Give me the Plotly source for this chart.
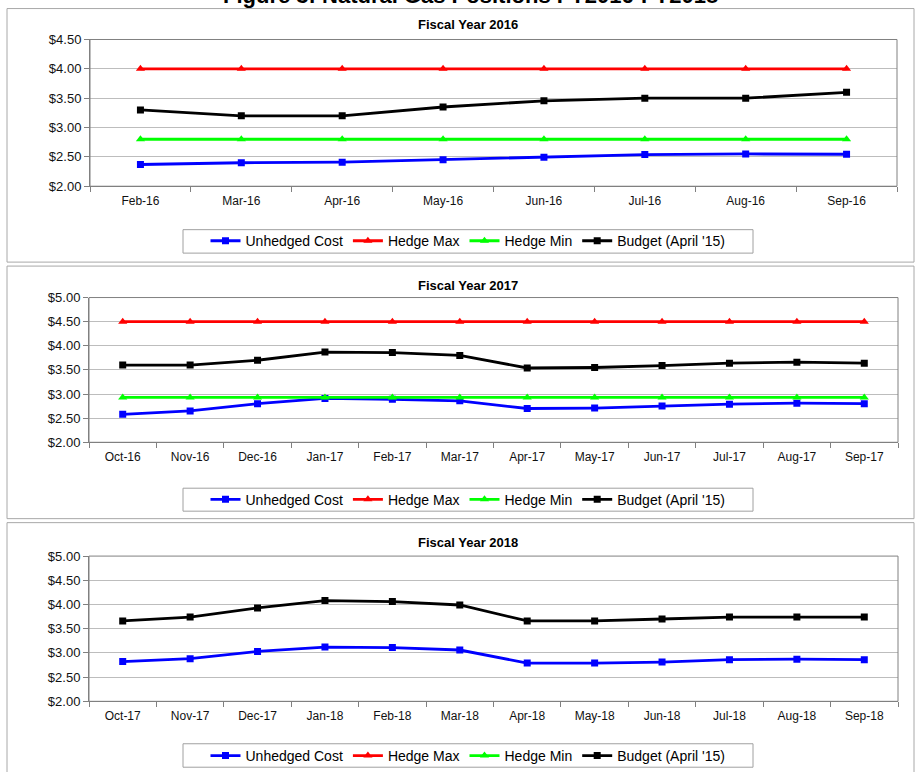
import plotly.graph_objects as go

W, H = 916, 772

# ---------------- data ----------------
months_fy16 = ["Feb-16", "Mar-16", "Apr-16", "May-16", "Jun-16", "Jul-16", "Aug-16", "Sep-16"]
unhedged_fy16 = [2.37, 2.40, 2.41, 2.45, 2.495, 2.54, 2.55, 2.545]
hedge_max_fy16 = [4.00, 4.00, 4.00, 4.00, 4.00, 4.00, 4.00, 4.00]
hedge_min_fy16 = [2.80, 2.80, 2.80, 2.80, 2.80, 2.80, 2.80, 2.80]
budget_fy16 = [3.30, 3.20, 3.20, 3.35, 3.455, 3.50, 3.50, 3.60]

months_fy17 = ["Oct-16", "Nov-16", "Dec-16", "Jan-17", "Feb-17", "Mar-17",
               "Apr-17", "May-17", "Jun-17", "Jul-17", "Aug-17", "Sep-17"]
unhedged_fy17 = [2.58, 2.65, 2.80, 2.91, 2.89, 2.86, 2.70, 2.71, 2.75, 2.79, 2.81, 2.80]
hedge_max_fy17 = [4.50] * 12
hedge_min_fy17 = [2.93] * 12
budget_fy17 = [3.60, 3.60, 3.70, 3.87, 3.86, 3.80, 3.54, 3.55, 3.59, 3.64, 3.66, 3.64]

months_fy18 = ["Oct-17", "Nov-17", "Dec-17", "Jan-18", "Feb-18", "Mar-18",
               "Apr-18", "May-18", "Jun-18", "Jul-18", "Aug-18", "Sep-18"]
unhedged_fy18 = [2.82, 2.88, 3.03, 3.12, 3.11, 3.06, 2.79, 2.79, 2.81, 2.86, 2.87, 2.86]
hedge_max_fy18 = [None] * 12
hedge_min_fy18 = [None] * 12
budget_fy18 = [3.66, 3.74, 3.93, 4.08, 4.06, 3.99, 3.66, 3.66, 3.70, 3.74, 3.74, 3.74]

series_names = ["Unhedged Cost", "Hedge Max", "Hedge Min", "Budget (April '15)"]
panel_titles = ["Fiscal Year 2016", "Fiscal Year 2017", "Fiscal Year 2018"]
y_ranges = [[2.0, 4.5], [2.0, 5.0], [2.0, 5.0]]
main_title = "Figure 3: Natural Gas Positions FY2016-FY2018"

panels = [
    (months_fy16, [unhedged_fy16, hedge_max_fy16, hedge_min_fy16, budget_fy16]),
    (months_fy17, [unhedged_fy17, hedge_max_fy17, hedge_min_fy17, budget_fy17]),
    (months_fy18, [unhedged_fy18, hedge_max_fy18, hedge_min_fy18, budget_fy18]),
]

# ---------------- styling / layout ----------------
colors = ["#0000FF", "#FF0000", "#00FF00", "#000000"]
symbols = ["square", "triangle-up", "triangle-up", "square"]
msizes = [7, 8, 8, 7]

FONT = "Liberation Sans, Arial, sans-serif"

def fx(px):
    return px / W

def fy(py):
    # target pixel row -> paper fraction (compensates the observed vertical mapping)
    p = (py - 6.45) / 0.981
    return 1 - p / H

# target pixel geometry per panel
geom = [
    dict(l=90, r=897, t=39, b=186, ty=24, ly=241, lt=229.5, lb=253, ft=8, fb=262),
    dict(l=89, r=898, t=297.5, b=442.5, ty=285, ly=500, lt=488.5, lb=511.5, ft=266, fb=519),
    dict(l=89, r=898, t=556.5, b=702, ty=543, ly=757, lt=744.5, lb=768, ft=523, fb=800),
]

fig = go.Figure()
layout = dict(
    width=W, height=H,
    margin=dict(l=0, r=0, t=0, b=0),
    paper_bgcolor="white", plot_bgcolor="white",
    font=dict(family=FONT, size=12, color="#000000"),
    shapes=[], annotations=[],
)

for i, ((months, vals), g) in enumerate(zip(panels, geom)):
    n = i + 1
    xa = "x" if n == 1 else f"x{n}"
    ya = "y" if n == 1 else f"y{n}"
    lg = "legend" if n == 1 else f"legend{n}"
    for k in range(4):
        fig.add_trace(go.Scatter(
            x=months, y=vals[k], name=series_names[k],
            mode="lines+markers",
            line=dict(color=colors[k], width=2.8),
            marker=dict(symbol=symbols[k], size=msizes[k], color=colors[k]),
            xaxis=xa, yaxis=ya, legend=lg, showlegend=True,
            connectgaps=False,
        ))
    xkey = "xaxis" if n == 1 else f"xaxis{n}"
    ykey = "yaxis" if n == 1 else f"yaxis{n}"
    layout[xkey] = dict(
        domain=[fx(g["l"]), fx(g["r"])], anchor=ya, type="category",
        categoryorder="array", categoryarray=months,
        range=[-0.5, len(months) - 0.5],
        showgrid=False, showline=True, linecolor="#808080", linewidth=1,
        ticks="outside", ticklen=5, tickcolor="#808080", tickson="boundaries",
        ticklabelstandoff=3,
        tickfont=dict(family=FONT, size=12, color="#111111"),
        zeroline=False, fixedrange=True,
    )
    layout[ykey] = dict(
        domain=[fy(g["b"]), fy(g["t"])], anchor=xa,
        range=y_ranges[i], dtick=0.5, tick0=2.0,
        tickformat=".2f", tickprefix="$",
        showgrid=True, gridcolor="#BDBDBD", gridwidth=1,
        showline=True, linecolor="#808080", linewidth=1,
        ticks="outside", ticklen=5, tickcolor="#808080",
        tickfont=dict(family=FONT, size=13, color="#111111"),
        zeroline=False, fixedrange=True,
    )
    layout[lg] = dict(
        orientation="h", x=fx(468), xanchor="center",
        y=fy(g["ly"]), yanchor="middle",
        borderwidth=0, bgcolor="rgba(0,0,0,0)",
        font=dict(family=FONT, size=14, color="#000000"),
        itemwidth=30, traceorder="normal",
    )
    # legend box (wider than plotly's own padding)
    layout["shapes"].append(dict(
        type="rect", xref="paper", yref="paper",
        x0=fx(183), x1=fx(753), y0=fy(g["lb"]), y1=fy(g["lt"]),
        line=dict(color="#A0A0A0", width=1), fillcolor="white", layer="below",
    ))
    layout["shapes"].append(dict(
        type="rect", xref=f"{xa} domain", yref=f"{ya} domain",
        x0=0, x1=1, y0=0, y1=1, line=dict(color="#808080", width=1), layer="above",
    ))
    layout["shapes"].append(dict(
        type="rect", xref="paper", yref="paper",
        x0=fx(7), x1=fx(914), y0=fy(g["fb"]), y1=fy(g["ft"]),
        line=dict(color="#A8A8A8", width=1), layer="below",
    ))
    layout["annotations"].append(dict(
        text=f"<b>{panel_titles[i]}</b>", xref="paper", yref="paper",
        x=fx(468), y=fy(g["ty"]), xanchor="center", yanchor="middle",
        showarrow=False, font=dict(family=FONT, size=13, color="#000000"),
    ))

layout["annotations"].append(dict(
    text=f"<b>{main_title}</b>", xref="paper", yref="paper",
    x=fx(470), y=fy(9.8), xanchor="center", yanchor="bottom",
    showarrow=False, font=dict(family=FONT, size=22, color="#000000"),
))

fig.update_layout(**layout)
fig.write_html("out.html")
